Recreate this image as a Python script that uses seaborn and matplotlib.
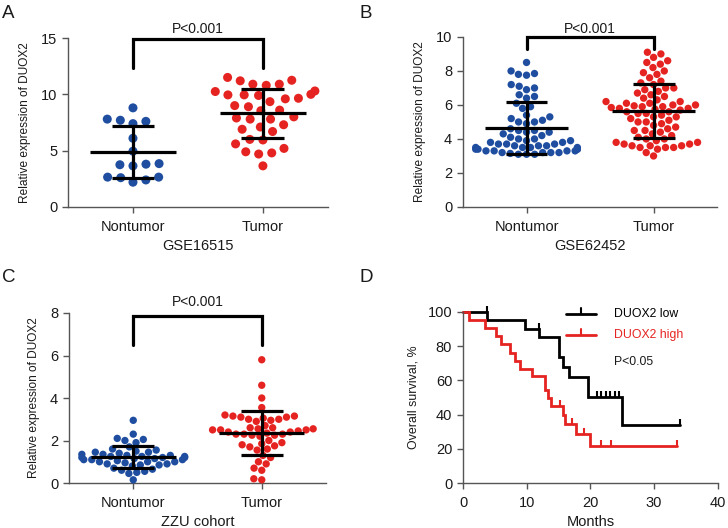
import numpy as np
import pandas as pd
import matplotlib
matplotlib.use("Agg")
import matplotlib.pyplot as plt
import seaborn as sns

sns.set_theme(style="ticks")
plt.rcParams["font.family"] = ["Liberation Sans", "DejaVu Sans"]

# ---------------- data ----------------
groups = ["Nontumor", "Tumor"]

a_nontumor = [7.7, 8.8, 7.4, 7.8, 7.6, 6.1, 4.95, 3.65, 3.85, 3.8, 3.75,
              2.65, 2.65, 2.6, 2.4, 2.2]
a_tumor = [10.9, 11.2, 10.9, 11.25, 11.5, 10.8, 10.3,
           9.9, 9.95, 10.25, 9.65, 9.95, 10.0, 9.35, 9.6,
           8.6, 8.9, 9.0, 8.0, 7.8, 7.9, 7.8, 8.55, 7.3,
           6.9, 6.7, 7.1, 5.95, 6.0, 5.6,
           5.2, 4.9, 4.7, 4.8, 3.65]

b_nontumor = [8.5, 8.0, 7.85, 7.75, 7.8, 7.1, 7.0, 7.2, 6.9, 6.6,
              6.5, 6.4, 6.1, 5.9, 5.8, 5.4, 5.3, 5.2, 5.1, 5.0,
              4.9, 5.0, 4.6, 4.5, 4.4, 4.3, 4.2, 4.4, 4.5, 4.1,
              4.0, 3.9, 3.8, 3.8, 3.7, 3.6, 3.7, 3.5, 3.5, 3.4,
              3.4, 3.3, 3.3, 3.2, 3.2, 3.2, 3.1, 3.1, 3.6, 3.9,
              4.0, 3.5, 3.3, 3.15, 3.2, 3.3, 3.4, 3.5, 3.6, 3.1,
              3.7, 3.4]
b_tumor = [9.1, 9.0, 8.8, 8.6, 8.5, 8.4, 8.2, 8.0, 7.9, 7.8,
           7.6, 7.4, 7.3, 7.2, 7.0, 7.0, 6.9, 6.8, 6.7, 6.6,
           6.5, 6.4, 6.3, 6.2, 6.2, 6.1, 6.1, 6.0, 6.0, 5.95,
           5.9, 5.9, 5.85, 5.8, 5.8, 5.75, 5.7, 5.6, 5.6, 5.5,
           5.5, 5.4, 5.3, 5.3, 5.2, 5.1, 5.0, 5.0, 4.9, 4.8,
           4.7, 4.6, 4.5, 4.5, 4.4, 4.3, 4.2, 4.1, 4.0, 4.0,
           3.9, 3.8, 3.8, 3.7, 3.7, 3.6, 3.6, 3.5, 3.5, 3.5,
           3.4, 3.6, 3.2, 3.0]

c_nontumor = [2.95, 2.3, 2.1, 2.0, 2.05, 1.9, 1.7, 1.6, 1.55, 1.5,
              1.45, 1.45, 1.4, 1.35, 1.35, 1.3, 1.3, 1.25, 1.25, 1.2,
              1.2, 1.2, 1.15, 1.15, 1.1, 1.1, 1.1, 1.05, 1.0, 1.0,
              0.95, 0.9, 0.9, 0.85, 0.85, 0.8, 0.7, 0.65, 0.6, 0.55,
              0.5, 0.45, 0.15, 1.25, 1.0]
c_tumor = [5.8, 4.6, 4.0, 3.55, 3.2, 3.15, 3.1, 3.15, 3.1, 3.05,
           3.0, 3.0, 2.95, 2.9, 2.6, 2.55, 2.5, 2.5, 2.45, 2.4,
           2.4, 2.35, 2.3, 2.3, 2.25, 2.25, 2.5, 2.6, 2.55, 2.3,
           2.0, 1.9, 1.85, 1.8, 1.75, 1.7, 1.6, 1.55, 1.3, 1.2,
           1.0, 0.9, 0.7, 0.6, 0.2, 0.15, 2.7, 2.2]

# Kaplan-Meier step curves (months, overall survival %)
low_times = [0, 3.8, 9.7, 12.0, 15.1, 15.7, 16.6, 19.6, 25.0]
low_surv = [100, 95, 90, 85.5, 73.5, 67.8, 61.8, 50.5, 33.7]
low_end = 34.1
low_censor = [3.7, 11.9, 21.0, 21.6, 22.4, 23.1, 23.8, 24.5, 34.1]

high_times = [0, 0.9, 3.5, 5.2, 5.9, 7.4, 8.2, 9.0, 10.8, 12.8, 13.3, 13.8,
              15.7, 16.0, 17.8, 19.9]
high_surv = [100, 95.2, 90.5, 85.7, 81.0, 76.2, 71.4, 66.7, 62.5, 54.5, 49.5,
             45.2, 39.6, 34.7, 28.9, 21.9]
high_end = 33.6
high_censor = [15.2, 17.1, 19.0, 21.7, 23.2, 33.6]

BLUE = "#1f4ea0"
RED = "#e52421"
SPINE = "#555555"
TXT = "#1a1a1a"

fig = plt.figure(figsize=(7.28, 5.28), dpi=100)
axA = fig.add_axes([0.0934, 0.608, 0.357, 0.320])
axB = fig.add_axes([0.636, 0.608, 0.349, 0.322])
axC = fig.add_axes([0.0948, 0.0852, 0.353, 0.322])
axD = fig.add_axes([0.636, 0.0852, 0.350, 0.324])


def style_axes(ax):
    for s in ["top", "right"]:
        ax.spines[s].set_visible(False)
    for s in ["left", "bottom"]:
        ax.spines[s].set_color(SPINE)
        ax.spines[s].set_linewidth(1.0)
    ax.tick_params(axis="both", colors=SPINE, length=4.3, width=1.0,
                   labelcolor=TXT, labelsize=10.5)
    ax.tick_params(axis="x", pad=5)


def dotplot(ax, non, tum, ylim, yticks, xlabel, size, layout_size, bracket):
    df = pd.DataFrame({"group": ["Nontumor"] * len(non) + ["Tumor"] * len(tum),
                       "value": non + tum})
    ax.set_xlim(-0.5, 1.5)
    ax.set_ylim(*ylim)
    sns.swarmplot(data=df, x="group", y="value", hue="group", order=groups,
                  hue_order=groups, palette=[BLUE, RED], size=layout_size, ax=ax,
                  legend=False, linewidth=0)
    ax.set_xlim(-0.5, 1.5)
    ax.set_ylim(*ylim)
    # lay the swarm out with a wider spacing, then show smaller dots
    fig.canvas.draw()
    for c in ax.collections:
        if "draw" in c.__dict__:
            del c.draw
        c.set_sizes([size ** 2])
        c.set_clip_on(False)
    stats = df.groupby("group")["value"].agg(["mean", "std"]).reindex(groups)
    for i, (m, s) in enumerate(zip(stats["mean"], stats["std"])):
        ax.hlines(m, i - 0.33, i + 0.33, color="black", lw=2.3, zorder=5)
        ax.hlines([m - s, m + s], i - 0.165, i + 0.165, color="black", lw=2.3, zorder=5)
        ax.vlines(i, m - s, m + s, color="black", lw=2.3, zorder=5)
    top, leg, ty = bracket
    ax.plot([0, 0, 1, 1], [leg, top, top, leg], color="black", lw=2.3,
            clip_on=False, solid_joinstyle="miter", zorder=5)
    ax.text(0.5, ty, "P<0.001", ha="center", va="center", fontsize=10,
            color=TXT, clip_on=False)
    ax.set_yticks(yticks)
    ax.set_xlabel(xlabel, fontsize=10.5, color=TXT, labelpad=4)
    ax.set_ylabel("Relative expression of DUOX2", fontsize=8.6, color=TXT,
                  labelpad=7)
    style_axes(ax)


dotplot(axA, a_nontumor, a_tumor, (0, 15), [0, 5, 10, 15], "GSE16515", 6.5, 9.0,
        (14.9, 12.35, 15.8))
dotplot(axB, b_nontumor, b_tumor, (0, 10), [0, 2, 4, 6, 8, 10], "GSE62452", 5.3, 5.6,
        (10.0, 9.3, 10.47))
dotplot(axC, c_nontumor, c_tumor, (0, 8), [0, 2, 4, 6, 8], "ZZU cohort", 5.3, 5.5,
        (7.87, 6.5, 8.54))


# ---------------- panel D: Kaplan-Meier ----------------
def km(ax, times, surv, end, censor, color):
    t = list(times) + [end]
    s = list(surv) + [surv[-1]]
    ax.step(t, s, where="post", color=color, lw=2.0, clip_on=False,
            solid_joinstyle="miter")
    ct = np.array(censor)
    idx = np.searchsorted(np.array(times), ct, side="right") - 1
    cy = np.array(surv)[idx]
    ax.vlines(ct, cy, cy + 3.5, color=color, lw=1.5, clip_on=False)


km(axD, low_times, low_surv, low_end, low_censor, "black")
km(axD, high_times, high_surv, high_end, high_censor, RED)
axD.set_xlim(0, 40)
axD.set_ylim(0, 100)
axD.set_xticks([0, 10, 20, 30, 40])
axD.set_yticks([0, 20, 40, 60, 80, 100])
axD.set_xlabel("Months", fontsize=10.5, color=TXT, labelpad=4)
axD.set_ylabel("Overall survival, %", fontsize=8.9, color=TXT, labelpad=6)
style_axes(axD)

# legend
for yy, col, lab in [(0.988, "black", "DUOX2 low"), (0.865, RED, "DUOX2 high")]:
    axD.plot([0.404, 0.522], [yy, yy], transform=axD.transAxes, color=col,
             lw=2.0, clip_on=False)
    axD.plot([0.463, 0.463], [yy, yy + 0.035], transform=axD.transAxes,
             color=col, lw=1.5, clip_on=False)
    axD.text(0.592, yy, lab, transform=axD.transAxes, color=col, fontsize=8.8,
             va="center", ha="left")
axD.text(0.592, 0.708, "P<0.05", transform=axD.transAxes, color=TXT,
         fontsize=8.8, va="center", ha="left")

# panel letters
for x, y, l in [(0.003, 0.99, "A"), (0.494, 0.99, "B"),
                (0.003, 0.49, "C"), (0.494, 0.49, "D")]:
    fig.text(x, y, l, fontsize=13.5, va="top", ha="left", color=TXT)

fig.savefig("out.png", dpi=100)
